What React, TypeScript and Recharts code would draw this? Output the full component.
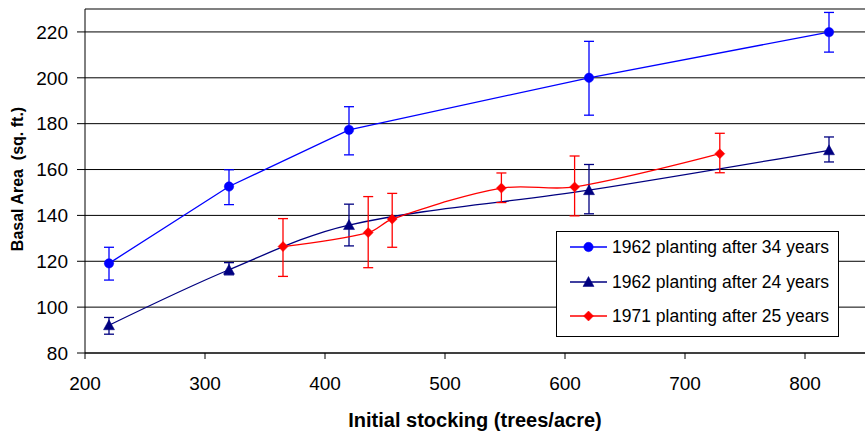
import React from 'react';
import { LineChart, Line, XAxis, YAxis, CartesianGrid, ErrorBar, ReferenceLine, Legend } from 'recharts';

// Series names
const seriesNames = ['1962 planting after 34 years', '1962 planting after 24 years', '1971 planting after 25 years'];
const seriesColors = ['#0000FF', '#000080', '#FF0000'];

// 1962 planting after 34 years
const blueX = [220, 320, 420, 620, 820];
const blueY = [119.1, 152.6, 177.3, 200.0, 219.9];
const blueLow = [111.8, 144.7, 166.4, 183.7, 211.2];
const blueHigh = [126.1, 159.9, 187.4, 215.9, 228.5];

// 1962 planting after 24 years
const navyX = [220, 320, 420, 620, 820];
const navyY = [92.1, 116.3, 135.8, 151.0, 168.4];
const navyLow = [88.2, 114.1, 126.7, 140.7, 163.3];
const navyHigh = [95.5, 119.4, 144.9, 162.2, 174.2];

// 1971 planting after 25 years
const redX = [365, 436, 456, 547, 608, 729];
const redY = [126.4, 132.5, 138.4, 151.9, 152.4, 166.9];
const redLow = [113.4, 117.2, 126.1, 145.6, 139.8, 158.6];
const redHigh = [138.6, 148.2, 149.6, 158.5, 165.9, 175.8];

const xTicks = [200, 300, 400, 500, 600, 700, 800];
const yTicks = [80, 100, 120, 140, 160, 180, 200, 220];

const build = (xs: number[], ys: number[], lo: number[], hi: number[]) =>
  xs.map((x, i) => ({ x, y: ys[i], err: [ys[i] - lo[i], hi[i] - ys[i]] }));

const blueData = build(blueX, blueY, blueLow, blueHigh);
const navyData = build(navyX, navyY, navyLow, navyHigh);
const redData = build(redX, redY, redLow, redHigh);

const FONT = '"Liberation Sans", Arial, sans-serif';

// Excel-like smoothed line: distance-weighted Bezier handles
function excelSmooth(context: any) {
  let pts: number[][] = [];
  const dist = (a: number[], b: number[]) => Math.hypot(b[0] - a[0], b[1] - a[1]);
  return {
    areaStart() {},
    areaEnd() {},
    lineStart() {
      pts = [];
    },
    point(x: number, y: number) {
      pts.push([+x, +y]);
    },
    lineEnd() {
      const n = pts.length;
      if (n === 0) return;
      context.moveTo(pts[0][0], pts[0][1]);
      if (n === 1) return;
      const k = 1 / 3;
      // outgoing / incoming handles for each point
      const handle = (i: number, forward: boolean) => {
        const p = pts[i];
        if (i === 0 || i === n - 1) return p;
        const a = pts[i - 1];
        const b = pts[i + 1];
        const d0 = dist(a, p);
        const d1 = dist(p, b);
        const tx = b[0] - a[0];
        const ty = b[1] - a[1];
        const s = d0 + d1 || 1;
        if (forward) return [p[0] + (tx * d1 * k) / s, p[1] + (ty * d1 * k) / s];
        return [p[0] - (tx * d0 * k) / s, p[1] - (ty * d0 * k) / s];
      };
      for (let i = 0; i < n - 1; i++) {
        const c1 = handle(i, true);
        const c2 = handle(i + 1, false);
        const p2 = pts[i + 1];
        context.bezierCurveTo(c1[0], c1[1], c2[0], c2[1], p2[0], p2[1]);
      }
    },
  };
}

const Marker = ({ shape, cx, cy, color }: { shape: string; cx: number; cy: number; color: string }) => {
  if (shape === 'circle') return <circle cx={cx} cy={cy} r={4.7} fill={color} stroke={color} strokeWidth={0.5} />;
  if (shape === 'triangle')
    return (
      <polygon
        points={`${cx},${cy - 5.5} ${cx - 5.5},${cy + 4.5} ${cx + 5.5},${cy + 4.5}`}
        fill={color}
        stroke={color}
        strokeWidth={0.5}
      />
    );
  return (
    <polygon
      points={`${cx},${cy - 5} ${cx + 5},${cy} ${cx},${cy + 5} ${cx - 5},${cy}`}
      fill={color}
      stroke={color}
      strokeWidth={0.5}
    />
  );
};

const shapes = ['circle', 'triangle', 'diamond'];

const makeDot = (idx: number) => (props: any) => {
  const { cx, cy, index } = props;
  if (cx == null || cy == null) return <g key={`d-${idx}-${index}`} />;
  return (
    <g key={`d-${idx}-${index}`}>
      <Marker shape={shapes[idx]} cx={cx} cy={cy} color={seriesColors[idx]} />
    </g>
  );
};

const LegendBox = () => (
  <div
    style={{
      position: 'relative',
      width: 283,
      height: 106,
      border: '1px solid #000',
      background: '#fff',
      boxSizing: 'border-box',
      fontFamily: FONT,
      fontSize: 17.5,
      color: '#000',
    }}
  >
    {seriesNames.map((name, i) => (
      <div
        key={name}
        style={{
          position: 'absolute',
          left: 13,
          top: 15 + i * 34.6 - 12,
          height: 24,
          display: 'flex',
          alignItems: 'center',
          whiteSpace: 'nowrap',
        }}
      >
        <svg width={37} height={24} style={{ display: 'block' }}>
          <line x1={0} y1={12} x2={37} y2={12} stroke={seriesColors[i]} strokeWidth={1.3} />
          <Marker shape={shapes[i]} cx={18.5} cy={12} color={seriesColors[i]} />
        </svg>
        <span style={{ marginLeft: 5, lineHeight: '24px' }}>{name}</span>
      </div>
    ))}
  </div>
);

export default function App() {
  return (
    <div style={{ position: 'absolute', left: 0, top: 0, background: '#fff' }}>
      <LineChart width={865} height={433} margin={{ top: 9, right: 0, left: 0, bottom: 0 }}>
        <CartesianGrid horizontal vertical={false} stroke="#000" strokeWidth={1} />
        <XAxis
          type="number"
          dataKey="x"
          domain={[200, 850]}
          ticks={xTicks}
          allowDataOverflow
          height={80}
          tickSize={6}
          tickMargin={18}
          stroke="#000"
          tick={{ fill: '#000', fontSize: 19, fontFamily: FONT }}
          label={{
            value: 'Initial stocking (trees/acre)',
            position: 'insideBottom',
            offset: 6,
            style: { fill: '#000', fontSize: 20, fontWeight: 'bold', fontFamily: FONT },
          }}
        />
        <YAxis
          type="number"
          domain={[80, 230]}
          ticks={yTicks}
          allowDataOverflow
          width={85}
          tickSize={8}
          tickMargin={9}
          stroke="#000"
          tick={{ fill: '#000', fontSize: 19, fontFamily: FONT }}
          label={{
            content: () => (
              <text
                x={17.5}
                y={179}
                transform="rotate(-90, 17.5, 179)"
                textAnchor="middle"
                dominantBaseline="central"
                style={{ fill: '#000', fontSize: 16, fontWeight: 'bold', fontFamily: FONT }}
              >
                {'Basal Area\u00a0 (sq. ft.)'}
              </text>
            ),
          }}
        />
        <ReferenceLine y={230} stroke="#808080" strokeWidth={2} />
        <Line
          data={blueData}
          dataKey="y"
          name={seriesNames[0]}
          type="linear"
          stroke={seriesColors[0]}
          strokeWidth={1.3}
          dot={makeDot(0)}
          isAnimationActive={false}
        >
          <ErrorBar dataKey="err" width={5} stroke={seriesColors[0]} strokeWidth={1.3} direction="y" />
        </Line>
        <Line
          data={navyData}
          dataKey="y"
          name={seriesNames[1]}
          type={excelSmooth as any}
          stroke={seriesColors[1]}
          strokeWidth={1.3}
          dot={makeDot(1)}
          isAnimationActive={false}
        >
          <ErrorBar dataKey="err" width={5} stroke={seriesColors[1]} strokeWidth={1.3} direction="y" />
        </Line>
        <Line
          data={redData}
          dataKey="y"
          name={seriesNames[2]}
          type={excelSmooth as any}
          stroke={seriesColors[2]}
          strokeWidth={1.3}
          dot={makeDot(2)}
          isAnimationActive={false}
        >
          <ErrorBar dataKey="err" width={5} stroke={seriesColors[2]} strokeWidth={1.3} direction="y" />
        </Line>
        <Legend
          layout="vertical"
          verticalAlign="middle"
          align="center"
          content={() => <LegendBox />}
          wrapperStyle={{ left: 556, top: 231, width: 283, height: 106 }}
        />
      </LineChart>
    </div>
  );
}
